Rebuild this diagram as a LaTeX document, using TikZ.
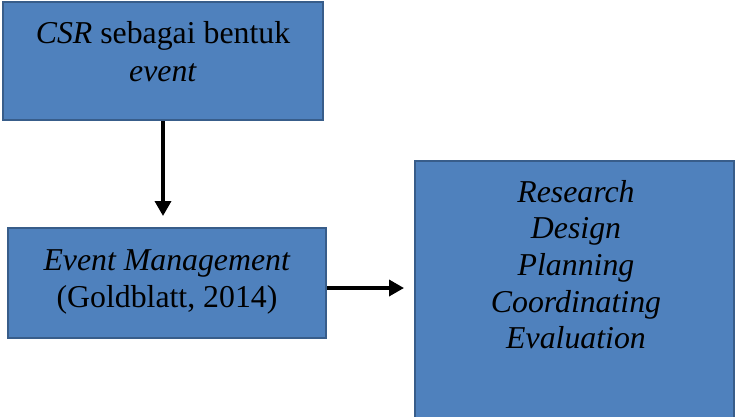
\documentclass[tikz,border=0pt]{standalone}
\usepackage{fontspec}
\setmainfont{Liberation Serif}
\usetikzlibrary{arrows.meta}
\definecolor{boxfill}{HTML}{4F81BD}
\definecolor{boxline}{HTML}{385D8A}
\begin{document}
\begin{tikzpicture}[x=1pt,y=-1pt,
  blue box/.style={draw=boxline, fill=boxfill, line width=2pt, rectangle, inner sep=0pt},
  txt/.style={anchor=base, inner sep=0pt, font=\fontsize{31.8}{37}\selectfont},
  conn/.style={line width=3.5pt, -{Triangle[length=15pt,width=16pt]}}]
\useasboundingbox (0,0) rectangle (736,416);
\clip (0,0) rectangle (736,416);
\node[blue box, minimum width=320pt, minimum height=118pt] (b1) at (163,61) {};
\node[blue box, minimum width=318pt, minimum height=110pt] (b2) at (167,283) {};
\node[blue box, minimum width=319pt, minimum height=280pt, anchor=north west] (b3) at (414,160) {};
\node[txt] (t11) at (163,43) {\textit{CSR} sebagai bentuk};
\node[txt] (t12) at (163,81) {\textit{event}};
\node[txt] (t21) at (167,270) {\textit{Event Management}};
\node[txt] (t22) at (167,307) {(Goldblatt, 2014)};
\node[txt] (t31) at (576,202) {\textit{Research}};
\node[txt] (t32) at (576,238) {\textit{Design}};
\node[txt] (t33) at (576,275) {\textit{Planning}};
\node[txt] (t34) at (576,312) {\textit{Coordinating}};
\node[txt] (t35) at (576,348) {\textit{Evaluation}};
\coordinate (a1) at (163,216);
\coordinate (a2) at (404,288);
\draw[conn] (b1.south) -- (a1);
\draw[conn] (b2.east |- a2) -- (a2);
\end{tikzpicture}
\end{document}
